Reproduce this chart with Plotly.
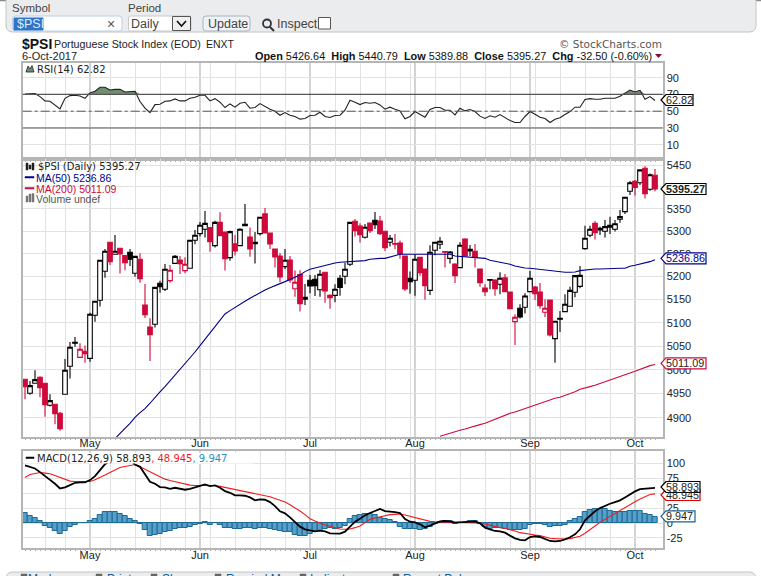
import numpy as np
import plotly.graph_objects as go

W, H = 761, 576

# ---- data (one value per trading day) ----
opens = [
    4979.9, 4950.6, 4971.5, 4984, 4971.5, 4925.7, 4927.8, 4909.1, 4948.5, 5007.2,
    5058.1, 5026.1, 5038.9, 5024, 5115.9, 5148.3, 5211.5, 5275.6, 5248.9, 5262.2,
    5246, 5253.3, 5207.2, 5237.9, 5138.2, 5090.8, 5096.5, 5185.2, 5172.1, 5191,
    5229, 5236.4, 5213, 5218.1, 5280, 5294.8, 5304.5, 5308.2, 5268.2, 5320,
    5298.5, 5241.5, 5271.9, 5268.2, 5315.6, 5287.4, 5275.6, 5294.8, 5338.9, 5296.3,
    5260.7, 5245.2, 5221.8, 5236.4, 5173.5, 5204.2, 5150.4, 5191.8, 5194, 5171.3,
    5209.3, 5159, 5159, 5196.3, 5200.6, 5226.9, 5322.3, 5311.9, 5286.7, 5318.6,
    5324.6, 5323, 5300, 5275.6, 5272.6, 5274.1, 5245.2, 5196.2, 5191.8, 5242.2,
    5216.7, 5169.9, 5257.8, 5271.1, 5254.8, 5240, 5227.6, 5219.6, 5283, 5260,
    5255.6, 5216.7, 5175, 5193.3, 5192.5, 5183.1, 5197, 5166.3, 5102.2, 5131,
    5133.2, 5167, 5177.2, 5166.3, 5122.4, 5149, 5065.9, 5109.4, 5123.8, 5135.3,
    5165.6, 5178.6, 5261.5, 5291.1, 5317.8, 5303, 5300, 5308.9, 5304.5, 5326.8,
    5344.1, 5390, 5412.6, 5409.5, 5442.6, 5394.5, 5426.64,
]
highs = [
    4980, 4976.4, 4998.8, 4986.2, 4972, 4948.5, 4928, 4911.9, 5022.6, 5058.8,
    5069.4, 5056, 5051, 5121.6, 5146.1, 5237.1, 5260.7, 5275.6, 5291.9, 5262.2,
    5246, 5260.7, 5244.4, 5251.1, 5183.8, 5109.4, 5176.4, 5191, 5227.6, 5225.4,
    5247.3, 5245.2, 5242.2, 5280, 5303, 5320.8, 5345.6, 5308.2, 5323.8, 5342.6,
    5298.5, 5301.5, 5291.9, 5306.7, 5361.4, 5308.2, 5298.5, 5331.3, 5352.4, 5296.3,
    5260.7, 5251.8, 5260.7, 5245.2, 5213, 5213.7, 5183.8, 5203.5, 5203.5, 5214.4,
    5209.3, 5161.2, 5183.1, 5203.5, 5230.5, 5320, 5327.6, 5317.8, 5316.3, 5318.6,
    5343.4, 5334.3, 5300, 5291.9, 5294, 5279.3, 5245.2, 5210.8, 5248.9, 5242.2,
    5216.7, 5268.9, 5277, 5287.4, 5256.3, 5256.3, 5229, 5275.6, 5284.5, 5269.6,
    5271.9, 5216.7, 5183, 5194, 5194, 5209.3, 5205.7, 5166.3, 5118, 5139.6,
    5163.4, 5212.3, 5179.4, 5186, 5150.4, 5149, 5102.9, 5125.3, 5161.2, 5177.9,
    5203.5, 5223.2, 5312.6, 5312.6, 5323, 5310.4, 5325.3, 5332.8, 5325.3, 5347.9,
    5376.5, 5413.3, 5415.6, 5439.6, 5447.2, 5430.6, 5440.79,
]
lows = [
    4938.2, 4947.8, 4971.5, 4942.3, 4902.2, 4923, 4886.4, 4873.4, 4948.5, 4981.3,
    5048.8, 5026, 5014.9, 5017, 5102.2, 5134.6, 5197.6, 5225.4, 5248.9, 5206.4,
    5213.7, 5223.2, 5199.8, 5186.7, 5110.1, 5018.4, 5089.4, 5164.8, 5168.4, 5186.7,
    5227.5, 5205.7, 5207.2, 5217, 5271.1, 5288.2, 5286, 5254.8, 5263.7, 5290.4,
    5213, 5234.9, 5246, 5267.4, 5312.6, 5243.7, 5228.4, 5290.4, 5296.3, 5260.7,
    5219.6, 5187.4, 5215.9, 5186.7, 5156.2, 5123.8, 5138.2, 5163.4, 5157.6, 5156.2,
    5143.2, 5129.8, 5144, 5158, 5183.1, 5223.2, 5288.2, 5274.8, 5283.7, 5296.3,
    5305.2, 5291.9, 5256.3, 5266, 5259.9, 5239.3, 5168.4, 5162.7, 5158, 5202,
    5149.7, 5159.8, 5247, 5260.7, 5219.6, 5228.4, 5186, 5219.6, 5245.2, 5245.2,
    5219.6, 5177.9, 5157.6, 5172.1, 5158, 5161.2, 5167, 5130.3, 5052.4, 5108.7,
    5119.5, 5165.6, 5149, 5129.8, 5112.3, 5070.2, 5014.9, 5080.1, 5123.8, 5134.6,
    5154.8, 5174.3, 5259.2, 5286.7, 5281.5, 5291.9, 5286, 5294.1, 5299.3, 5319.3,
    5338.9, 5381.7, 5380.2, 5404.3, 5373.4, 5391.5, 5389.88,
]
closes = [
    4964.5, 4966.6, 4979.2, 4962.4, 4927.1, 4935.4, 4908.4, 4877.5, 4998.8, 5047.4,
    5056, 5043.1, 5033.9, 5118, 5146.1, 5235.7, 5255.6, 5232.7, 5255.6, 5249.6,
    5230.5, 5237.9, 5244.4, 5195.5, 5117.3, 5074.4, 5176.4, 5177.9, 5215.9, 5213.7,
    5244.4, 5228, 5226.9, 5280, 5291.1, 5313.4, 5317.8, 5277, 5320, 5290.4,
    5239.3, 5299.3, 5256.3, 5304.5, 5312.6, 5260.7, 5272.6, 5331.3, 5296.3, 5271.9,
    5243, 5199, 5235.7, 5192.5, 5187.4, 5141, 5154.8, 5179.4, 5180.1, 5205,
    5168.4, 5154, 5172.1, 5176.4, 5215.9, 5320, 5301.5, 5292.6, 5308.9, 5301.5,
    5314.8, 5294.8, 5263.7, 5284.5, 5271.1, 5249.6, 5172.8, 5188.9, 5237.9, 5208.6,
    5180.1, 5253.3, 5275.6, 5277.8, 5253.3, 5254, 5202, 5268.9, 5245.2, 5256.3,
    5242.2, 5186.7, 5167, 5191.8, 5173.5, 5196.3, 5167, 5130.3, 5111.6, 5112.3,
    5157.6, 5196.2, 5162.7, 5136.8, 5131, 5073.7, 5102.9, 5107.2, 5139.6, 5169.9,
    5202, 5202.5, 5284.5, 5304.5, 5297, 5306.7, 5310.4, 5313.4, 5317, 5332.8,
    5376.5, 5409.5, 5399, 5438.9, 5384.7, 5427.6, 5395.27,
]
ma50 = [None] * 18 + [
    4857, 4866.6, 4878.2, 4888.4, 4900.8, 4910.5, 4918.8, 4929.9, 4942.3, 4953.4,
    4964.5, 4976.4, 4988.3, 4999.5, 5012.1, 5024, 5037.4, 5051, 5064.5, 5078.7,
    5091.5, 5105.8, 5118.8, 5126, 5133.2, 5139.6, 5146.1, 5152.6, 5159, 5164.8,
    5170.6, 5175.7, 5180.8, 5184.5, 5188.9, 5193.3, 5199.1, 5203.5, 5210.8, 5215.9,
    5218.8, 5221.8, 5224.7, 5227.6, 5229.8, 5231.3, 5232, 5232, 5234.2, 5234.9,
    5234.9, 5237.9, 5239.3, 5240, 5240, 5243, 5246.7, 5248.9, 5249, 5249,
    5249.2, 5249.1, 5249, 5249, 5248.8, 5248.9, 5249, 5249, 5245.2, 5244.4,
    5243, 5241.5, 5240.8, 5240, 5240, 5235.7, 5233.5, 5232.7, 5229.8, 5226.9,
    5223.2, 5220.3, 5218.8, 5218.1, 5216.7, 5215.9, 5214.4, 5213, 5210.8, 5209.3,
    5209.3, 5209.3, 5210, 5213, 5214.4, 5215.9, 5216.7, 5216.7, 5217.4, 5218.1,
    5218.1, 5218.1, 5218.1, 5222.5, 5224.7, 5226.9, 5229, 5232.7, 5236.86,
]
ma200 = [None] * 83 + [
    4861.9, 4865.3, 4868, 4871.4, 4874.1, 4876.8, 4880.2, 4883, 4885.7, 4888.4,
    4892.5, 4896.7, 4900.8, 4905.7, 4909.1, 4911.9, 4915.4, 4920.2, 4923.6, 4926.4,
    4930.5, 4934, 4936.8, 4940.2, 4942.3, 4945.8, 4949.9, 4954, 4958.9, 4961,
    4964.5, 4967.3, 4971.5, 4975.7, 4978.5, 4982, 4986.2, 4990.4, 4993.2, 4996.7,
    5000.9, 5004.4, 5008.6, 5011.09,
]
rsi = [
    70.6, 70.6, 71, 67.4, 62.3, 61.9, 57.5, 52.8, 65.4, 68.6,
    69, 68.2, 65.4, 71.8, 73.8, 78.5, 78.5, 75.3, 76.1, 76.1,
    73, 73, 73.8, 61.5, 53.6, 48.4, 57.9, 58.3, 61.9, 62.3,
    64.7, 62.3, 62.3, 65.4, 66.6, 69, 69, 62.3, 65, 60.7,
    54.4, 58.7, 54.8, 59.5, 60.7, 53.6, 54.4, 59.1, 55.5, 52.4,
    50, 45.2, 48.4, 45.2, 43.7, 40.5, 41.3, 44.9, 45.2, 48.8,
    43.7, 42.5, 44.9, 45.2, 51.2, 63.1, 60.7, 57.9, 60.3, 59.5,
    60.3, 57.5, 52.4, 54.8, 52.4, 50.4, 40.9, 43.7, 49.6, 46.4,
    42.9, 52, 54.4, 54.4, 51.2, 51.2, 45.6, 53.6, 50.4, 52,
    49.6, 44.1, 41.3, 44.5, 42.9, 46, 42.5, 38.9, 36.5, 36.5,
    43.7, 49.6, 46.4, 42.9, 41.3, 36.5, 40.5, 42.1, 46, 49.6,
    54.8, 54.8, 63.9, 65, 64.3, 64.3, 65.4, 65.4, 65.4, 67.8,
    71.4, 75.3, 73, 74.9, 64.3, 67.4, 62.82,
]
macd = [
    96.7, 94.4, 91.6, 85.5, 79.3, 73.2, 65.9, 58.1, 59.8, 63.7,
    67.6, 68.2, 68.2, 72.1, 78.8, 88.8, 98.9, 104.5, 108.4, 110.1,
    111.2, 107.8, 98.3, 94.4, 81.6, 69.3, 65.9, 60.3, 59.8, 57.5,
    59.2, 57.5, 55.9, 57.5, 60.3, 63.1, 64.8, 62, 63.1, 59.2,
    53.6, 50.8, 46.4, 46.4, 45.8, 43, 38, 39.7, 39.1, 35.2,
    28.5, 19.6, 16.2, 9.5, 2.2, -6.1, -10.6, -12.9, -14, -12.9,
    -14, -17.3, -17.9, -17.9, -14.5, -5.6, 2.2, 7.3, 12.9, 16.8,
    20.7, 23.5, 20.1, 19.6, 18.4, 16.8, 6.7, 2.2, 1.1, -2.2,
    -7.3, -4.5, -0.6, 2.8, 3.4, 2.8, 0.6, 1.1, 1.7, 2.8,
    2.8, -0.6, -7.8, -10.6, -13.4, -14, -16.2, -21.2, -25.7, -28.5,
    -29.1, -23.5, -22.3, -23.5, -26.3, -30.2, -30.7, -30.2, -27.4, -24,
    -19, -10.6, 4.5, 12.3, 19.6, 25.1, 29.1, 32.4, 35.2, 38,
    43, 48.6, 53.1, 57, 57.5, 59.2, 58.893,
]
signal = [
    76.5, 81.6, 83.2, 84.9, 83.8, 82.7, 79.9, 76.5, 73.2, 70.4,
    69.8, 69.8, 69.8, 69.8, 72.6, 76, 80.5, 84.9, 89.4, 93.3,
    95, 96.7, 98.3, 94.4, 90, 85.5, 81.6, 77.7, 73.7, 71.5,
    69.3, 67, 64.8, 63.7, 63.1, 63.1, 63.1, 63.1, 63.1, 61.5,
    59.8, 58.1, 57, 55.3, 53.6, 51.4, 49.2, 47.5, 46.4, 44.1,
    41.3, 38.5, 35.2, 30.7, 25.7, 20.1, 14, 7.3, 3.4, -0.6,
    -3.4, -5.6, -7.8, -10.1, -10.6, -10.1, -7.8, -5, 0.6, 6.1,
    8.4, 10.6, 12.3, 14, 14.5, 15.1, 13.4, 11.2, 8.9, 6.7,
    4.5, 2.8, 2.2, 1.7, 1.7, 1.7, 1.1, 1.1, 1.1, 0.6,
    0.6, 0, -1.7, -3.9, -6.1, -7.8, -8.9, -10.6, -13.4, -16.2,
    -17.9, -19.6, -20.1, -21.2, -23.5, -25.7, -26.3, -26.8, -26.8, -26.3,
    -24.6, -22.3, -17.3, -11.7, -5, 1.1, 6.1, 11.2, 16.2, 21.8,
    26.3, 31.3, 35.8, 40.2, 44.1, 48, 48.945,
]
hist = [
    16.2, 11.2, 8.9, 3.4, -4.5, -7.8, -12.9, -17.9, -12.9, -6.1,
    -2.8, -0.6, -0.6, 2.8, 6.1, 14, 17.9, 17.9, 17.9, 15.1,
    11.7, 6.1, 3.4, -2.2, -12.3, -21.2, -20.7, -17.9, -15.6, -13.4,
    -10.1, -8.9, -8.9, -6.7, -3.9, -1.7, 1.1, -2.8, -0.6, -2.8,
    -7.8, -7.8, -9.5, -9.5, -7.8, -8.9, -10.6, -7.8, -7.8, -9.5,
    -11.7, -14, -15.1, -15.1, -20.7, -22.3, -21.8, -19, -15.1, -12.9,
    -9.5, -7.8, -9.5, -7.8, -5, 6.1, 11.2, 13.4, 15.1, 15.1,
    13.4, 8.4, 6.7, 5, 1.1, -7.3, -10.6, -10.6, -9.5, -11.2,
    -10.6, -7.3, -1.7, 2.2, 3.4, 2.8, -2.2, 0, 0.3, 2.8,
    2.8, -1.1, -7.3, -9.5, -8.4, -8.9, -10.6, -11.7, -12.3, -12.3,
    -10.6, -3.4, -1.7, -1.7, -2.8, -7.3, -5, -5, -2.8, 3.9,
    6.7, 9.5, 17.9, 21.8, 22.9, 22.9, 22.9, 20.7, 18.4, 17.9,
    19, 19.6, 19.6, 19.6, 15.1, 12.8, 9.947,
]
month_idx = [13, 35, 57, 78, 101, 122]
month_labels = ["May", "Jun", "Jul", "Aug", "Sep", "Oct"]
week_idx = [4, 8, 17, 22, 27, 32, 37, 42, 47, 52, 62, 67, 72, 77, 82, 87, 92, 97, 102, 107, 112, 117]
rsi_ticks = [90, 70, 50, 30, 10]
rsi_levels = [70, 30]
price_ticks = [4900, 4950, 5000, 5050, 5100, 5150, 5200, 5250, 5300, 5350, 5400, 5450]
macd_ticks = [-25, 0, 25, 50, 75, 100]

days = list(range(len(closes)))
is_red = np.diff(closes, prepend=closes[0] + 1) < 0

# colours
RED = "#cf0a3a"
NAVY = "#00008b"
GRID = "#e2e2e2"
MONTH = "#c4c4c4"
FRAME = "#b5b5b5"
TXT = "#222222"
SANS = "Liberation Sans"
WIDE = "DejaVu Sans"


def px(x):
    return x / W


def py(y):
    return 1 - y / H


fig = go.Figure()


def subset(values, mask):
    return [v for v, m in zip(values, mask) if m]


# candles, black and red separately because a trace only has one line colour
for colour, mask in (("#000000", ~is_red), (RED, is_red)):
    fig.add_trace(go.Candlestick(
        x=subset(days, mask),
        open=subset(opens, mask), high=subset(highs, mask),
        low=subset(lows, mask), close=subset(closes, mask),
        xaxis="x2", yaxis="y2",
        increasing=dict(line=dict(color=colour, width=1.1), fillcolor="white"),
        decreasing=dict(line=dict(color=colour, width=1.1), fillcolor=colour),
        whiskerwidth=0, hoverinfo="skip",
    ))
fig.add_trace(go.Scatter(x=days, y=ma50, xaxis="x2", yaxis="y2", mode="lines",
                         line=dict(color=NAVY, width=1.1), hoverinfo="skip"))
fig.add_trace(go.Scatter(x=days, y=ma200, xaxis="x2", yaxis="y2", mode="lines",
                         line=dict(color=RED, width=1.1), hoverinfo="skip"))

# RSI with the green part over 70
fig.add_trace(go.Scatter(x=days, y=[70] * len(days), xaxis="x", yaxis="y", mode="lines",
                         line=dict(width=0), hoverinfo="skip"))
fig.add_trace(go.Scatter(x=days, y=np.maximum(rsi, 70), xaxis="x", yaxis="y", mode="lines",
                         line=dict(width=0), fill="tonexty", fillcolor="#6f8f6f", hoverinfo="skip"))
fig.add_trace(go.Scatter(x=days, y=rsi, xaxis="x", yaxis="y", mode="lines",
                         line=dict(color="#222222", width=1.1), hoverinfo="skip"))

# MACD
fig.add_trace(go.Bar(x=days, y=hist, xaxis="x3", yaxis="y3", width=1,
                     marker=dict(color="#559fc8", line=dict(color="#1d6a94", width=1)),
                     hoverinfo="skip"))
fig.add_trace(go.Scatter(x=days, y=signal, xaxis="x3", yaxis="y3", mode="lines",
                         line=dict(color="#f01c1c", width=1.1), hoverinfo="skip"))
fig.add_trace(go.Scatter(x=days, y=macd, xaxis="x3", yaxis="y3", mode="lines",
                         line=dict(color="#000000", width=1.8), hoverinfo="skip"))

x_range = [-0.46, 127.54]
x_dom = [px(22.7), px(662.7)]
daily_text = [month_labels[month_idx.index(d)] if d in month_idx else "" for d in days]


def x_axis(anchor, labels, standoff=0):
    return dict(
        domain=x_dom, range=x_range, anchor=anchor, showgrid=False, zeroline=False,
        showline=True, mirror=True, linecolor=FRAME, linewidth=1.5,
        tickmode="array", tickvals=days, ticktext=daily_text if labels else [""] * len(days),
        ticks="outside", ticklen=1, tickwidth=1, tickcolor="#aaaaaa", ticklabelstandoff=standoff,
        tickfont=dict(family=SANS, size=11, color=TXT),
        rangeslider=dict(visible=False),
        minor=dict(tickmode="array", tickvals=week_idx, showgrid=True, gridcolor=GRID, gridwidth=1, ticks=""),
    )


def y_axis(anchor, dom, rng, ticks, **kw):
    return dict(
        domain=dom, range=rng, anchor=anchor, side="right", showgrid=True, gridcolor=GRID, gridwidth=1,
        zeroline=False, showline=True, mirror=True, linecolor=FRAME, linewidth=1.5,
        tickmode="array", tickvals=ticks, ticktext=[str(t) for t in ticks], ticks="",
        tickfont=dict(family=SANS, size=11, color=TXT), **kw,
    )


# price panel is logarithmic, 5450 sits at y=165 and 4900 at y=417.7 in the picture
per_px = (np.log10(5450) - np.log10(4900)) / (417.7 - 165)
price_range = [np.log10(5450) - (437 - 165) * per_px, np.log10(5450) + (165 - 159) * per_px]

fig.update_layout(
    width=W, height=H, margin=dict(l=0, r=0, t=0, b=0),
    paper_bgcolor="white", plot_bgcolor="white", showlegend=False, bargap=0,
    boxgap=0.08, boxgroupgap=0, boxmode="overlay",
    xaxis=x_axis("y", False),
    xaxis2=x_axis("y2", True, standoff=-6),
    xaxis3=x_axis("y3", True, standoff=-5),
    yaxis=y_axis("x", [py(159), py(63)], [-7, 107.5], rsi_ticks),
    yaxis2=y_axis("x2", [py(437), py(159)], price_range, price_ticks, type="log"),
    yaxis3=y_axis("x3", [py(548), py(451)], [-42, 121], macd_ticks),
)

shapes = []
# month lines in each panel
for xa, ya in (("x", "y"), ("x2", "y2"), ("x3", "y3")):
    for m in month_idx:
        shapes.append(dict(type="line", xref=xa, yref=ya + " domain", x0=m, x1=m, y0=0, y1=1,
                           line=dict(color=MONTH, width=1.5), layer="below"))
# RSI levels
for lv in rsi_levels:
    shapes.append(dict(type="line", xref="x domain", yref="y", x0=0, x1=1, y0=lv, y1=lv,
                       line=dict(color="#555555", width=1.2)))
shapes.append(dict(type="line", xref="x domain", yref="y", x0=0, x1=1, y0=50, y1=50,
                   line=dict(color="#555555", width=1, dash="dashdot")))


def box(x0, y0, x1, y1, fill="white", line="#b0b0b0", width=1, r=0):
    if r:
        xa, xb, ya, yb = px(x0), px(x1), py(y0), py(y1)
        rx, ry = r / W, r / H
        path = (f"M {xa + rx},{ya} L {xb - rx},{ya} Q {xb},{ya} {xb},{ya - ry} "
                f"L {xb},{yb + ry} Q {xb},{yb} {xb - rx},{yb} L {xa + rx},{yb} "
                f"Q {xa},{yb} {xa},{yb + ry} L {xa},{ya - ry} Q {xa},{ya} {xa + rx},{ya} Z")
        shapes.append(dict(type="path", xref="paper", yref="paper", path=path, fillcolor=fill,
                           line=dict(color=line, width=width)))
    else:
        shapes.append(dict(type="rect", xref="paper", yref="paper", x0=px(x0), x1=px(x1), y0=py(y0), y1=py(y1),
                           fillcolor=fill, line=dict(color=line, width=width)))


def poly(points, fill, line="rgba(0,0,0,0)", width=1, close=True):
    d = "M " + " L ".join(f"{px(a)},{py(b)}" for a, b in points) + (" Z" if close else "")
    shapes.append(dict(type="path", xref="paper", yref="paper", path=d, fillcolor=fill,
                       line=dict(color=line, width=width)))


notes = []


def note(x, y, text, size=11, color=TXT, family=SANS, anchor="left", bg=None):
    notes.append(dict(xref="paper", yref="paper", x=px(x), y=py(y), text=text, showarrow=False,
                      xanchor=anchor, yanchor="middle", borderpad=0, borderwidth=0,
                      font=dict(size=size, color=color, family=family),
                      bgcolor=bg if bg else "rgba(0,0,0,0)"))


def tag(text, yc, right, border, color=TXT, bold=False, tip=661):
    top, bot = yc - 5.5, yc + 5.5
    poly([(tip, yc), (tip + 5, top), (right, top), (right, bot), (tip + 5, bot)], "white", border, 1.2)
    note(tip + 5, yc, f"<b>{text}</b>" if bold else text, size=10.8, color=color)


# toolbar across the top
shapes.append(dict(type="line", xref="paper", yref="paper", x0=0, x1=1, y0=py(0.5), y1=py(0.5),
                   line=dict(color="#8a8a8a", width=1.5)))
box(6, -6, 756, 32, fill="#ebecee", line="#c4c4c4", r=7)
note(12, 8, "Symbol", size=11.5, color="#444444")
note(128, 8, "Period", size=11.5, color="#444444")
box(12.5, 16, 122, 31, line="#bcd0e6", r=3)
box(14, 18, 43, 30, fill="#2f74c8", line="#2f74c8")
note(17, 24, "$PSI", size=12.5, color="#dfe9f7")
note(107, 23.5, "×", size=14, color="#555555")
box(128.5, 16, 191, 31, line="#c8c8c8", r=2)
note(131, 24, "Daily", size=12.5, color="#444444")
box(172.5, 16.5, 190.5, 30.5, fill="#f0f0f0", line="#555555", width=1)
poly([(177, 21), (181.5, 26), (186, 21)], "rgba(0,0,0,0)", "#111111", 1.6, close=False)
box(203, 16, 250, 31, fill="#eef2f6", line="#aab4c0", r=3)
note(208, 24, "Update", size=12.5, color="#444444")
shapes.append(dict(type="circle", xref="paper", yref="paper", x0=px(263), x1=px(271), y0=py(27.5), y1=py(19.5),
                   line=dict(color="#333333", width=1.8)))
poly([(270, 27), (274, 31)], "rgba(0,0,0,0)", "#333333", 2, close=False)
note(277, 24, "Inspect", size=12.5, color="#444444")
box(318.5, 17.5, 330.5, 29, line="#555555")

# title block
note(22, 43.5, "<b>$PSI</b>", size=14, color="#111111")
note(54, 43.5, "Portuguese Stock Index (EOD)", size=10.7, color=TXT)
note(206, 43.5, "ENXT", size=10.5, color=TXT)
note(662, 43.5, "© StockCharts.com", size=10.5, color="#555555", family=WIDE, anchor="right")
note(22, 56, "6-Oct-2017", size=11, color=TXT)
note(652, 56, "<b>Open</b> 5426.64  <b>High</b> 5440.79  <b>Low</b> 5389.88  <b>Close</b> 5395.27  "
     "<b>Chg</b> -32.50 (-0.60%)", size=10.9, color="#111111", anchor="right")
poly([(655, 54), (662, 54), (658.5, 58)], "#8c0a30")

# panel legends
note(37, 69.5, "RSI(14) 62.82", size=10, color=TXT, family=WIDE)
poly([(26, 72), (28, 66), (30, 69), (32, 65.5), (34, 72)], "#6f8f6f", "#222222", 0.8)
note(38, 166, "$PSI (Daily) 5395.27", size=10, color=TXT, family=WIDE)
for bx, t, b in ((27, 163, 170), (30, 165, 169), (33, 163, 170)):
    box(bx - 1, t, bx + 1, b, fill="#222222", line="#222222", width=0.5)
note(36, 177.5, "MA(50) 5236.86", size=10.5, color=NAVY)
box(25, 176.5, 34, 178, fill=NAVY, line=NAVY, width=0.5)
note(36, 188.5, "MA(200) 5011.09", size=10.5, color=RED)
box(25, 187.5, 34, 189, fill=RED, line=RED, width=0.5)
note(36, 198.5, "Volume undef", size=10.5, color="#555555")
for bx, t in ((27, 196), (30, 194), (33, 193.5)):
    box(bx - 1, t, bx + 1, 202, fill="#777777", line="#777777", width=0.5)
box(24, 453, 253, 463.5, fill="white", line="white", width=0)
box(26, 457, 34, 458.5, fill="#000000", line="#000000", width=0.5)
note(37, 458, "MACD(12,26,9) 58.893<span style='color:#f01c1c'>, 48.945</span>"
     "<span style='color:#2a8fc0'>, 9.947</span>", size=10, color=TXT, family=WIDE)

# value flags on the right side
tag("62.82", 100, 693, "#000000")
tag("5395.27", 189, 706, "#000000", bold=True)
tag("5236.86", 258.3, 706, NAVY, color=NAVY)
tag("5011.09", 363.3, 706, RED)
tag("48.945", 495, 700, "#e00000")
tag("58.893", 487, 700, "#000000")
tag("9.947", 516.3, 695, "#1f5f8f")

# strip at the bottom, mostly below the window edge
box(6, 572, 756, 600, fill="#ebecee", line="#c4c4c4", r=7)
for x_text, x_icon, label in ((28, 24, "Markup"), (107, 99, "Print"), (162, 154, "Share"),
                              (226, 218, "Remind Me"), (310, 303, "Indicators"), (403, 396, "Recent Pubs")):
    box(x_icon - 3, 574, x_icon + 3, 580, fill="#666666", line="#666666", width=0.5)
    note(x_text, 579, label, size=12, color="#0f5b8e")

fig.update_layout(shapes=shapes, annotations=notes)

fig.write_html("out.html", config=dict(displayModeBar=False),
               post_script="document.body.style.margin='0';document.body.style.overflow='hidden';")
